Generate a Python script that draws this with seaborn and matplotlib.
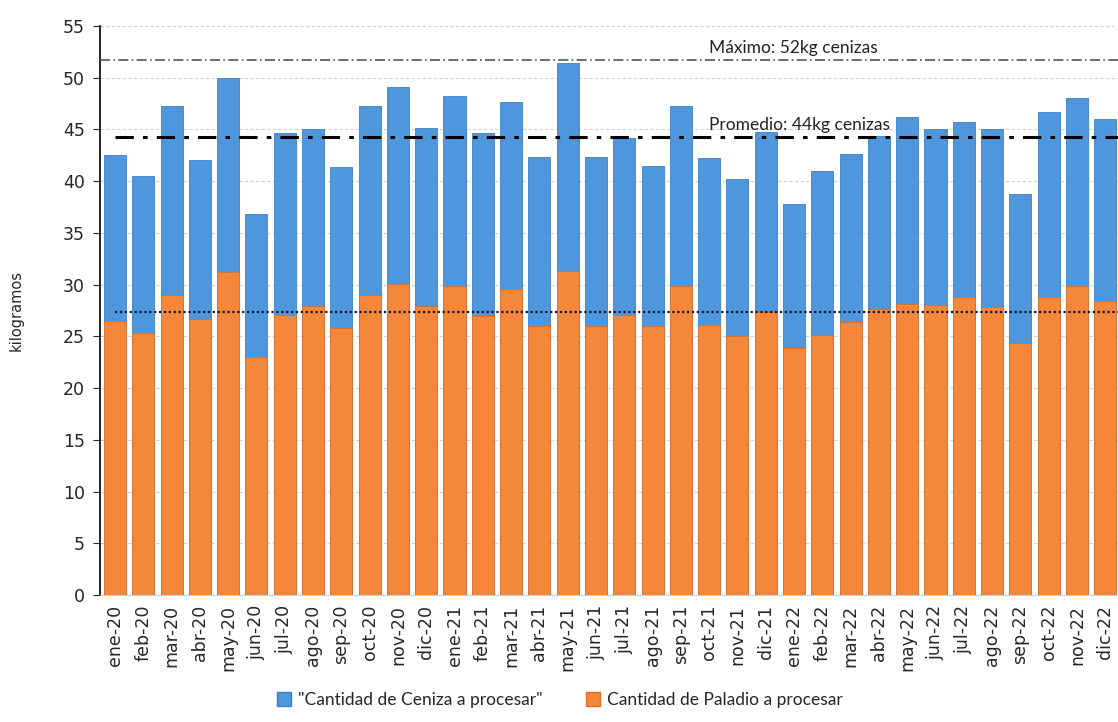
import matplotlib
matplotlib.use("Agg")
import matplotlib.pyplot as plt
import seaborn as sns
import pandas as pd
from matplotlib.patches import Patch

meses = ["ene-20", "feb-20", "mar-20", "abr-20", "may-20", "jun-20", "jul-20", "ago-20",
         "sep-20", "oct-20", "nov-20", "dic-20", "ene-21", "feb-21", "mar-21", "abr-21",
         "may-21", "jun-21", "jul-21", "ago-21", "sep-21", "oct-21", "nov-21", "dic-21",
         "ene-22", "feb-22", "mar-22", "abr-22", "may-22", "jun-22", "jul-22", "ago-22",
         "sep-22", "oct-22", "nov-22", "dic-22"]
ceniza = [42.5, 40.5, 47.3, 42.0, 50.0, 36.8, 44.7, 45.0, 41.4, 47.3, 49.1, 45.1,
          48.2, 44.7, 47.7, 42.3, 51.4, 42.3, 44.2, 41.5, 47.3, 42.2, 40.2, 44.8,
          37.8, 41.0, 42.6, 44.4, 46.2, 45.0, 45.7, 45.0, 38.8, 46.7, 48.0, 46.0]
paladio = [26.5, 25.3, 29.0, 26.7, 31.2, 23.0, 27.1, 27.9, 25.8, 29.0, 30.1, 27.9,
           29.9, 27.0, 29.6, 26.0, 31.3, 26.0, 27.1, 26.0, 29.9, 26.1, 25.0, 27.4,
           23.9, 25.1, 26.4, 27.6, 28.1, 28.0, 28.8, 27.8, 24.4, 28.8, 29.9, 28.4]
maximo = 51.7
promedio = 44.3
promedio_paladio = 27.4

azul = "#4f97dc"
naranja = "#f5873a"

df = pd.DataFrame({"mes": meses, "ceniza": ceniza, "paladio": paladio})

sns.set_style("white")
plt.rcParams["font.family"] = ["DejaVu Sans"]

fig = plt.figure(figsize=(11.18, 7.22), dpi=100)
ax = fig.add_axes([100 / 1118, 1 - 595 / 722, 1 - 100 / 1118, (595 - 26) / 722])

sns.barplot(data=df, x="mes", y="ceniza", color=azul, width=0.78, ax=ax,
            saturation=1, edgecolor="#3f7fc0", linewidth=0.6, zorder=2)
sns.barplot(data=df, x="mes", y="paladio", color=naranja, width=0.78, ax=ax,
            saturation=1, edgecolor="#d9712a", linewidth=0.6, zorder=3)

x_right = 35.45
ax.set_ylim(0, 55)
ax.set_xlim(-0.53, x_right)
ax.set_yticks(range(0, 56, 5))
ax.yaxis.grid(True, color="#d0d0d0", linestyle=(0, (3, 2)), linewidth=0.8, zorder=0)
ax.set_axisbelow(True)

for s in ["top", "right"]:
    ax.spines[s].set_visible(False)
ax.spines["left"].set_color("black")
ax.spines["left"].set_linewidth(1.2)
ax.spines["bottom"].set_color("#bcd3ea")
ax.tick_params(axis="y", direction="out", length=5, left=True, labelsize=12.5, pad=6)
ax.tick_params(axis="x", length=0, labelsize=12.5, pad=7)
for lbl in ax.get_xticklabels() + ax.get_yticklabels():
    lbl.set_fontfamily("DejaVu Sans")
plt.setp(ax.get_xticklabels(), rotation=90)

ax.set_xlabel("")
ax.set_ylabel("kilogramos", fontsize=10.5, family="DejaVu Sans", labelpad=28)

# reference lines
ax.axhline(maximo, xmin=0, xmax=1, color="#555555", linestyle=(0, (6, 2, 1, 2)),
           linewidth=1.2, zorder=4)
ax.plot([0, x_right], [promedio, promedio], color="black", linestyle=(0, (6, 3, 1.5, 3)),
        linewidth=2.2, zorder=4)
ax.plot([0, x_right], [promedio_paladio, promedio_paladio], color="#111133",
        linestyle=(0, (1, 1.2)), linewidth=1.6, zorder=4)

ax.text(21.0, maximo + 0.4, "Máximo: 52kg cenizas", fontsize=12.5,
        family=["Lato", "DejaVu Sans"], va="bottom", ha="left", color="#222222", zorder=5)
ax.text(21.0, promedio + 0.4, "Promedio: 44kg cenizas", fontsize=12.5,
        family=["Lato", "DejaVu Sans"], va="bottom", ha="left", color="#222222", zorder=5)

handles = [Patch(facecolor=azul, edgecolor="#3f7fc0"),
           Patch(facecolor=naranja, edgecolor="#d9712a")]
fig.legend(handles, ['"Cantidad de Ceniza a procesar"', "Cantidad de Paladio a procesar"],
           loc="center", bbox_to_anchor=(560 / 1118, 1 - 700 / 722), ncol=2, frameon=False,
           prop={"family": ["Lato", "DejaVu Sans"], "size": 12.5},
           handlelength=0.8, handleheight=0.8, handletextpad=0.4, columnspacing=2.5)

fig.savefig("out.png", dpi=100)
